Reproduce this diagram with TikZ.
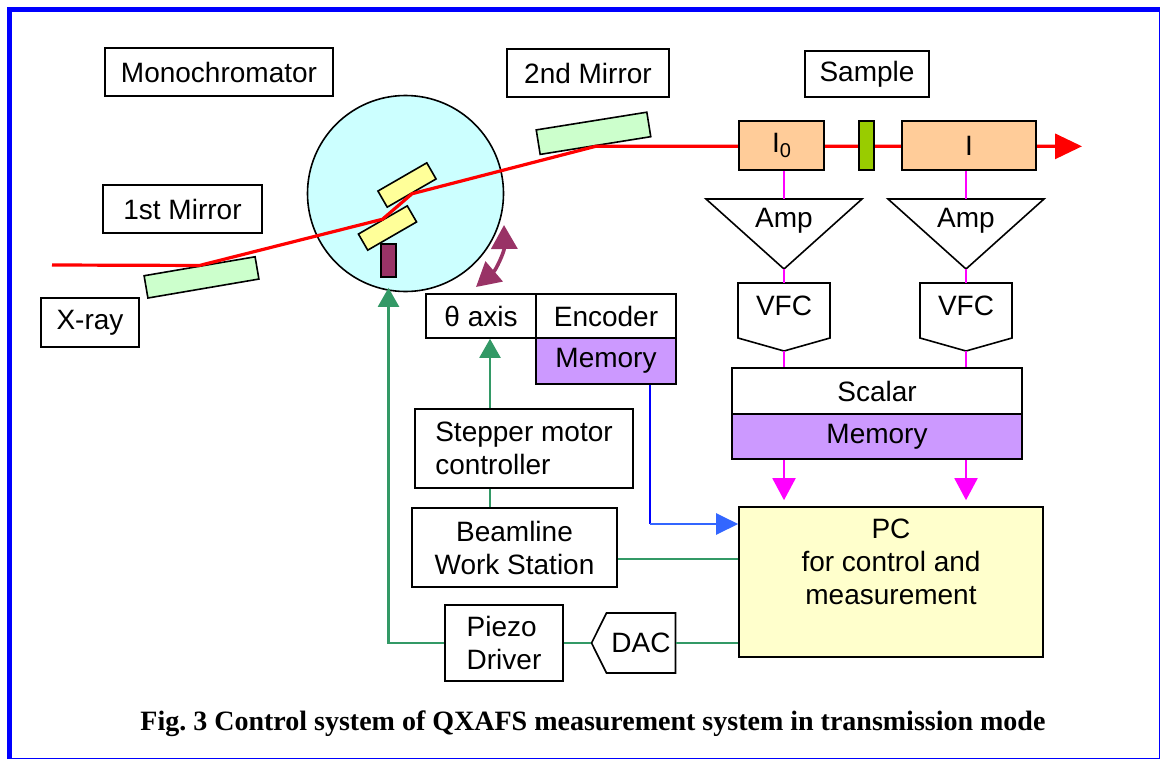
\documentclass[tikz,border=0pt]{standalone}
\usepackage{fontspec}
\setmainfont{Liberation Sans}
\newfontfamily\capfont{Liberation Serif}
\usepackage{tikz}
\usetikzlibrary{arrows,arrows.meta,positioning,calc,shapes.geometric,shapes.symbols}

\definecolor{cielo}{HTML}{CCFFFF}
\definecolor{espejo}{HTML}{CCFFCC}
\definecolor{cristal}{HTML}{FFFF99}
\definecolor{vino}{HTML}{993366}
\definecolor{camara}{HTML}{FFCC99}
\definecolor{muestra}{HTML}{99CC00}
\definecolor{memoria}{HTML}{CC99FF}
\definecolor{pcfill}{HTML}{FFFFCC}
\definecolor{verde}{HTML}{339966}
\definecolor{azul}{HTML}{3366FF}
\definecolor{rosa}{HTML}{FF00FF}

\begin{document}
\begin{tikzpicture}[x=0.5pt, y=-0.5pt, font=\fontsize{14}{16.5}\selectfont,
    box/.style={draw, line width=0.8pt, inner sep=0pt, align=center},
    plate/.style={draw, line width=0.8pt, inner sep=0pt},
    beam/.style={red, line width=1.6pt},
    gline/.style={verde, line width=1.1pt},
    mline/.style={rosa, line width=1pt}]
    \useasboundingbox (0,0) rectangle (1161,760);
    \draw[blue, line width=0.8pt] (9.5,9.5) rectangle (1159.5,758.5);   % marco
    \draw[blue, line width=2.6pt] (9.5,759) -- (9.5,9.5) -- (1160,9.5);

    % monocromador y espejos
    \node[circle, draw, line width=0.8pt, fill=cielo, minimum size=98pt, inner sep=0pt] (mono) at (405.5,193.5) {};
    \node[plate, fill=espejo, rotate=9.7, minimum width=56.3pt, minimum height=11.3pt] (m1) at (201.5,277.4) {};
    \node[plate, fill=espejo, rotate=9.1, minimum width=56pt, minimum height=12.4pt] (m2) at (593.5,133.3) {};
    \node[plate, fill=cristal, rotate=30, minimum width=28.2pt, minimum height=9.3pt] (c1) at (387.5,228) {};
    \node[plate, fill=cristal, rotate=30, minimum width=28.2pt, minimum height=9.3pt] (c2) at (407,185) {};
    \node[plate, fill=vino, minimum width=7.5pt, minimum height=16.5pt] (pzt) at (388.5,260.5) {};

    % haz
    \coordinate (src) at (52,265);
    \coordinate (tip) at (1082,145);
    \draw[beam, -{Triangle[length=13.5pt,width=12.5pt]}] (src) -- (m1.north) -- (c1.north) -- (c2.south) -- (m2.south) -- (m2.south -| tip);

    % detectores
    \node[box, fill=camara, minimum width=42.5pt, minimum height=24.5pt] (I0) at (781.5,145.5) {I{\fontsize{10}{10}\selectfont\raisebox{-0.4ex}{0}}};
    \node[plate, fill=muestra, minimum width=7.5pt, minimum height=24.5pt] (smp) at (866.5,145.5) {};
    \node[box, fill=camara, minimum width=67pt, minimum height=24.5pt] (I) at (969,145.5) {I};

    % etiquetas
    \node[box, minimum width=114pt, minimum height=24pt] (lmono) at (219,72) {Monochromator};
    \node[box, minimum width=81pt, minimum height=24pt] (lm2) at (588,73) {2nd Mirror};
    \node[box, minimum width=62pt, minimum height=23pt] (lsmp) at (867,74) {Sample};
    \node[box, minimum width=79.5pt, minimum height=24pt] (lm1) at (182.5,209) {1st Mirror};
    \node[box, minimum width=49pt, minimum height=24.5pt] (lxray) at (90,322.5) {X-ray};

    % control del eje
    \node[box, minimum width=55pt, minimum height=22pt] (theta) at (481,316) {θ axis};
    \node[box, minimum width=70pt, minimum height=22pt] (enc) at (606,316) {Encoder};
    \node[box, fill=memoria, minimum width=70pt, minimum height=23pt] (memA) at (606,361) {Memory};
    \node[box, align=left, minimum width=109pt, minimum height=39.5pt] (step) at (524,448.5) {Stepper motor\\controller};
    \node[box, minimum width=102.5pt, minimum height=39.5pt] (bws) at (514.5,547.5) {Beamline\\Work Station};
    \node[box, align=left, minimum width=59pt, minimum height=38pt] (pdrv) at (504,643) {Piezo\\Driver};
    \node[signal, signal to=west, signal pointer angle=127, draw, line width=0.8pt, inner sep=0pt,
          minimum width=42pt, minimum height=30pt] (dac) at (641,643) {DAC};
    \node[box, fill=pcfill, minimum width=152pt, minimum height=75pt] (pc) at (891,582) {};
    \node[anchor=north, align=center, inner sep=0pt] (pctxt) at ([yshift=-6pt]pc.north) {PC\\for control and\\measurement};
    \node[box, minimum width=145pt, minimum height=23pt] (scal) at (877,391) {Scalar};
    \node[box, fill=memoria, minimum width=145pt, minimum height=22.5pt] (memB) at (877,436.5) {Memory};

    % canales I0 e I
    \foreach \x/\ch/\dn in {784/a/I0, 966/b/I}{
        \draw[line width=0.8pt] (\x-78,199) -- (\x+78,199) -- (\x,269) -- cycle;
        \node (amp\ch) at (\x,221) {Amp};
        \draw[line width=0.8pt] (\x-46,283) -- (\x+46,283) -- (\x+46,338) -- (\x,351) -- (\x-46,338) -- cycle;
        \node (vfc\ch) at (\x,306) {VFC};
        \coordinate (ain\ch) at (\x,199);
        \coordinate (aout\ch) at (\x,269);
        \coordinate (vin\ch) at (\x,283);
        \coordinate (vout\ch) at (\x,351);
        \draw[mline] (ain\ch |- \dn.south) -- (ain\ch);
        \draw[mline] (aout\ch) -- (vin\ch);
        \draw[mline] (vout\ch) -- (vout\ch |- scal.north);
        \draw[mline, -{Triangle[length=11pt,width=11.5pt]}] (vout\ch |- memB.south) -- ([yshift=3pt]vout\ch |- pc.north);
    }

    % lineas verdes
    \draw[gline, -{Triangle[length=9.5pt,width=10.5pt]}, shorten >=5pt] (pdrv.west) -| (pzt.south);
    \draw[gline] (pdrv.east) -- (dac.west);
    \draw[gline] (dac.east) -- (dac.east -| pc.west);
    \draw[gline] ([yshift=-5.75pt]bws.east) -- ([yshift=-5.75pt]bws.east -| pc.west);
    \coordinate (sx) at ([xshift=-12.25pt]bws.north);
    \draw[gline] (sx) -- (sx |- step.south);
    \draw[gline, -{Triangle[length=9.5pt,width=10.5pt]}] (sx |- step.north) -- (sx |- theta.south);

    % encoder al PC
    \coordinate (mout) at ([xshift=22pt]memA.south);
    \coordinate (pcin) at ([yshift=29pt]pc.west);
    \draw[blue, line width=1.1pt] (mout) -- (mout |- pcin);
    \draw[azul, line width=1.1pt, -{Triangle[length=11pt,width=10.5pt]}] (mout |- pcin) -- (pcin);

    % giro
    \coordinate (rot1) at (476,287);
    \coordinate (rot2) at (504,225);
    \draw[vino, line width=1.8pt, {Triangle[length=12pt,width=13pt]}-{Triangle[length=12pt,width=13pt]}] (rot1) to[bend right=25] (rot2);

    \node[font=\capfont\bfseries\fontsize{14}{16}\selectfont] (cap) at (593,724) {Fig.\ 3 Control system of QXAFS measurement system in transmission mode};
\end{tikzpicture}
\end{document}
